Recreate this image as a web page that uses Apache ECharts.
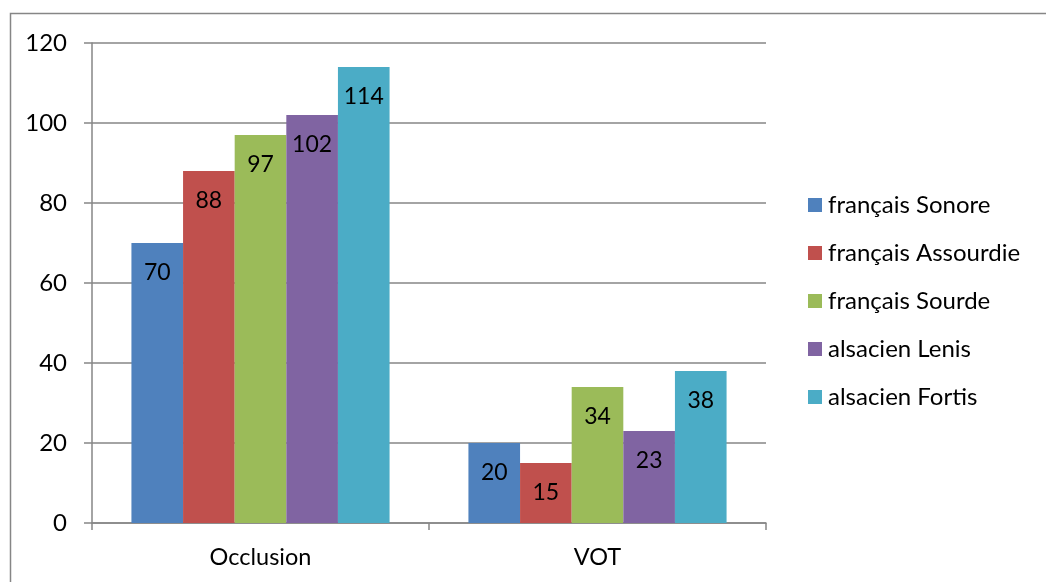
<!DOCTYPE html>
<html>
<head>
<meta charset="utf-8">
<script src="https://cdn.jsdelivr.net/npm/echarts@6/dist/echarts.min.js"></script>
<style>
html,body{margin:0;padding:0;background:#fff;}
#chart{width:1046px;height:582px;}
</style>
</head>
<body>
<div id="chart"></div>
<script>
const categories = ['Occlusion', 'VOT'];
const seriesNames = ['français Sonore', 'français Assourdie', 'français Sourde', 'alsacien Lenis', 'alsacien Fortis'];
const francaisSonore = [70, 20];
const francaisAssourdie = [88, 15];
const francaisSourde = [97, 34];
const alsacienLenis = [102, 23];
const alsacienFortis = [114, 38];
const yTicks = [0, 20, 40, 60, 80, 100, 120];
const colors = ['#4F81BD', '#C0504D', '#9BBB59', '#8064A2', '#4BACC6'];

const allValues = [francaisSonore, francaisAssourdie, francaisSourde, alsacienLenis, alsacienFortis];
const FONT = 'Lato';
const GRAY = '#868686';

const chart = echarts.init(document.getElementById('chart'), null, {renderer: 'canvas'});
chart.setOption({
  animation: false,
  backgroundColor: '#fff',
  color: colors,
  textStyle: {fontFamily: FONT},
  graphic: [{
    type: 'rect',
    silent: true,
    z: -1,
    shape: {x: 10.5, y: 13.5, width: 1200, height: 800},
    style: {fill: 'none', stroke: GRAY, lineWidth: 1.5}
  }],
  grid: {left: 92, right: 280, top: 43, bottom: 59, containLabel: false},
  legend: {
    orient: 'vertical',
    left: 808,
    top: 193,
    padding: 0,
    itemWidth: 14,
    itemHeight: 14,
    itemGap: 24,
    icon: 'rect',
    textStyle: {fontFamily: FONT, fontSize: 24, color: '#000', lineHeight: 24, padding: [0, 0, 0, 1]},
    data: seriesNames
  },
  xAxis: {
    type: 'category',
    data: categories,
    axisLine: {show: true, lineStyle: {color: GRAY, width: 1.5}},
    axisTick: {show: true, length: 7, lineStyle: {color: GRAY, width: 1.5}},
    axisLabel: {fontFamily: FONT, fontSize: 23.5, color: '#000', margin: 22},
    splitLine: {show: false}
  },
  yAxis: {
    type: 'value',
    min: yTicks[0],
    max: yTicks[yTicks.length - 1],
    interval: yTicks[1] - yTicks[0],
    axisLine: {show: true, lineStyle: {color: GRAY, width: 1.5}},
    axisTick: {show: true, length: 8, lineStyle: {color: GRAY, width: 1.5}},
    axisLabel: {fontFamily: FONT, fontSize: 24, color: '#000', margin: 25},
    splitLine: {show: true, lineStyle: {color: GRAY, width: 1.5}}
  },
  series: seriesNames.map((name, i) => ({
    name: name,
    type: 'bar',
    data: allValues[i],
    barGap: '0%',
    barCategoryGap: '23.4%',
    itemStyle: {color: colors[i]},
    label: {
      show: true,
      position: 'insideTop',
      distance: 18,
      fontFamily: FONT,
      fontSize: 23,
      color: '#000'
    }
  }))
});
</script>
</body>
</html>
